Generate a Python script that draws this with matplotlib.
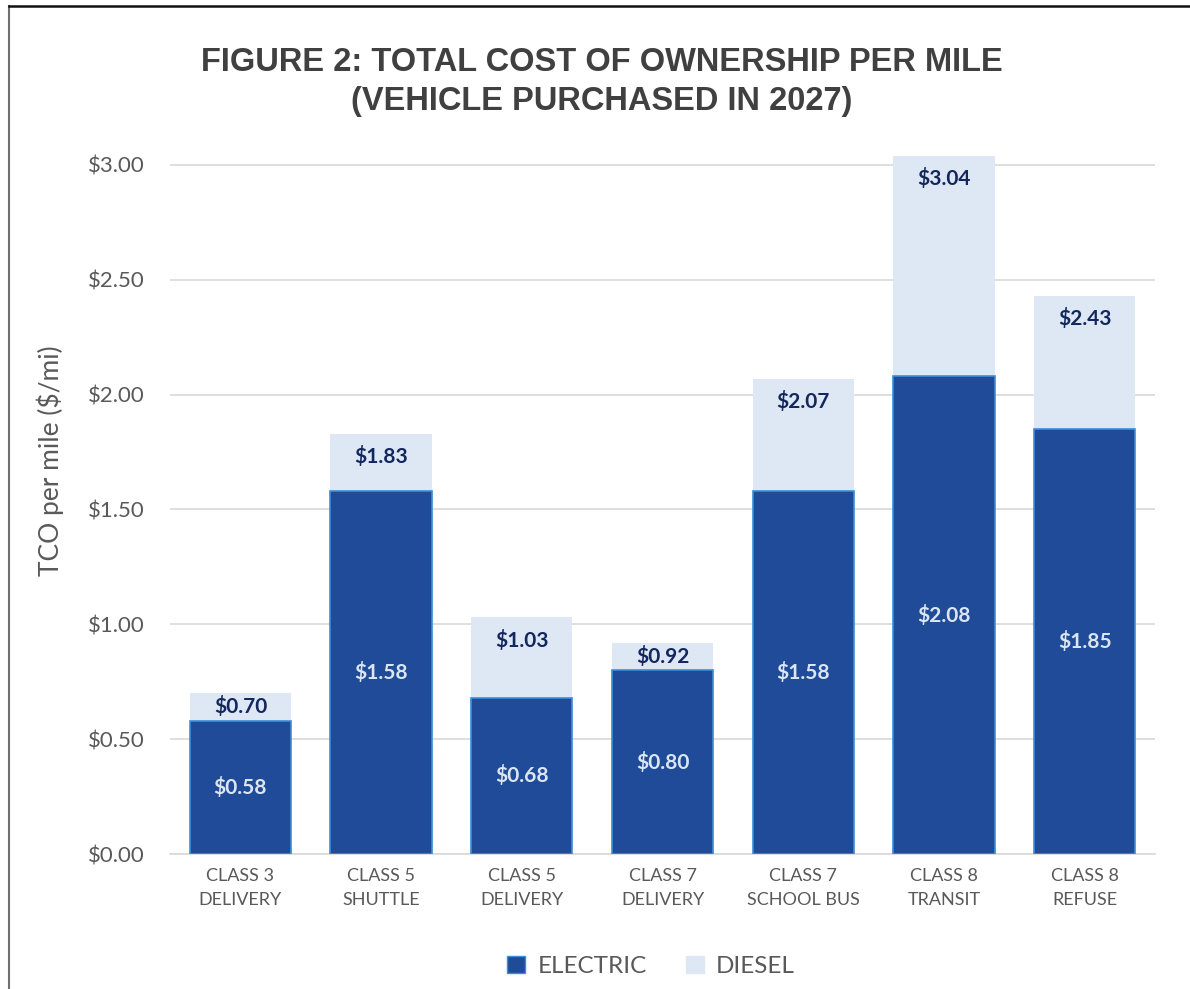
import matplotlib.pyplot as plt
from matplotlib.lines import Line2D
from matplotlib.patches import Patch

categories = ["CLASS 3\nDELIVERY", "CLASS 5\nSHUTTLE", "CLASS 5\nDELIVERY", "CLASS 7\nDELIVERY",
              "CLASS 7\nSCHOOL BUS", "CLASS 8\nTRANSIT", "CLASS 8\nREFUSE"]
electric = [0.58, 1.58, 0.68, 0.80, 1.58, 2.08, 1.85]
diesel = [0.70, 1.83, 1.03, 0.92, 2.07, 3.04, 2.43]
yticks = [0, 0.5, 1.0, 1.5, 2.0, 2.5, 3.0]

ELEC = "#1f4b98"
ELEC_EDGE = "#3b8ed8"
DIES = "#dde8f4"
NAVY = "#13275e"
GRAY = "#595959"

plt.rcParams['font.family'] = ['Lato', 'DejaVu Sans']

fig = plt.figure(figsize=(11.9, 9.89), dpi=100)
ax = fig.add_axes([0.1429, 0.1365, 0.8277, 0.7432])

x = range(len(categories))
w = 0.72
ax.bar(x, diesel, w, color=DIES, zorder=2, label="DIESEL")
ax.bar(x, electric, w, color=ELEC, edgecolor=ELEC_EDGE, linewidth=1.2, zorder=3, label="ELECTRIC")

for i in x:
    e, d = electric[i], diesel[i]
    ax.text(i, e / 2, "$%.2f" % e, ha="center", va="center", color="#dce6f2",
            fontsize=15, fontweight="bold", zorder=4)
    yd = max(d - 0.1, (e + d) / 2)
    ax.text(i, yd, "$%.2f" % d, ha="center", va="center", color=NAVY,
            fontsize=15, fontweight="bold", zorder=4)

ax.set_xlim(-0.5, 6.5)
ax.set_ylim(0, 3.2)
ax.set_yticks(yticks)
ax.set_yticklabels(["$%.2f" % v for v in yticks])
ax.set_xticks(list(x))
ax.set_xticklabels(categories, linespacing=1.6)
ax.tick_params(axis="y", length=0, pad=18, labelsize=16, labelcolor=GRAY)
ax.tick_params(axis="x", length=0, pad=10, labelsize=13, labelcolor=GRAY)
ax.grid(axis="y", color="#d9d9d9", linewidth=1.2, zorder=0)
ax.set_axisbelow(True)
for s in ["top", "right", "left"]:
    ax.spines[s].set_visible(False)
ax.spines["bottom"].set_color("#d9d9d9")
ax.spines["bottom"].set_linewidth(1.2)

ax.set_ylabel("TCO per mile ($/mi)", fontsize=19, color=GRAY)
ax.yaxis.set_label_coords(-0.108, 0.535)

fig.text(0.506, 0.917, "FIGURE 2: TOTAL COST OF OWNERSHIP PER MILE\n(VEHICLE PURCHASED IN 2027)",
         ha="center", va="center", fontsize=23.5, fontweight="bold", color="#404040",
         family="Liberation Sans", linespacing=1.3)

handles = [Patch(facecolor=ELEC, edgecolor=ELEC_EDGE, label="ELECTRIC"),
           Patch(facecolor=DIES, edgecolor=DIES, label="DIESEL")]
fig.legend(handles=handles, loc="center", bbox_to_anchor=(0.547, 0.023), ncol=2, frameon=False,
           fontsize=17.5, labelcolor=GRAY, handlelength=0.75, handleheight=0.75,
           handletextpad=0.5, columnspacing=1.6)

# frame lines (left and top only)
fig.add_artist(Line2D([0.0072, 0.0072], [0, 0.994], transform=fig.transFigure, color="#707070", linewidth=1.5))
fig.add_artist(Line2D([0.0072, 1.0], [0.994, 0.994], transform=fig.transFigure, color="#111111", linewidth=1.8))

fig.savefig("out.png", dpi=100)
